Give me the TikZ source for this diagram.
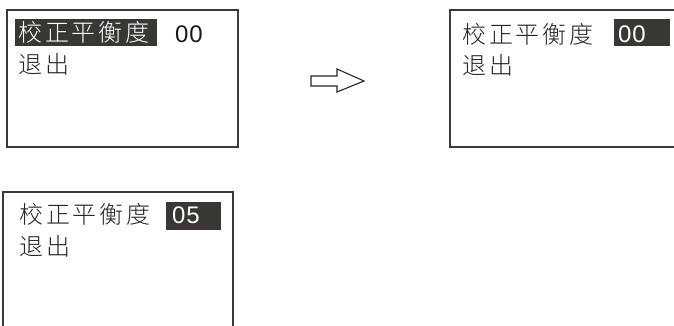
\documentclass[tikz,border=0pt]{standalone}
\usepackage{fontspec}
\newfontfamily\cjk{Noto Sans CJK SC Light}[LetterSpace=12]
\newfontfamily\digitfont{Liberation Sans}[LetterSpace=4]
\definecolor{bordercol}{HTML}{3D3939}
\definecolor{hlcol}{HTML}{3A3636}
\tikzset{
  panel/.style={draw=bordercol, line width=1.4pt},
  hilite/.style={fill=hlcol},
  cn/.style={font=\cjk\fontsize{24}{24}\selectfont, inner sep=0pt, anchor=base west, text=black!85},
  num/.style={font=\digitfont\fontsize{24}{24}\selectfont, inner sep=0pt, anchor=base west, text=black!90},
  arrowshape/.style={draw=black!85, line width=1.1pt, fill=white, line join=miter}
}
\begin{document}
\begin{tikzpicture}[x=1pt,y=-1pt]
\clip (0,0) rectangle (674,325);
\fill[white] (0,0) rectangle (674,325);
% top-left panel
\draw[panel] (7,10) rectangle (238,147);
\fill[hilite] (15,19) rectangle (157,46);
\node[cn, text=white] (t1) at (18,41) {校正平衡度};
\node[num] (n1) at (175,42) {00};
\node[cn] (e1) at (18,73) {退出};
% arrow
\draw[arrowshape] (311,76) -- (337,76) -- (337,69) -- (364,81) -- (337,92) -- (337,86) -- (311,86) -- cycle;
% top-right panel
\draw[panel] (450,10) rectangle (690,147);
\fill[hilite] (614,19) rectangle (670,46);
\node[cn] (t2) at (462,43) {校正平衡度};
\node[num, text=white] (n2) at (618,42) {00};
\node[cn] (e2) at (462,74) {退出};
% bottom panel
\draw[panel] (3,192) rectangle (233,340);
\fill[hilite] (166,202) rectangle (221,230);
\node[cn] (t3) at (19,223) {校正平衡度};
\node[num, text=white] (n3) at (172,223) {05};
\node[cn] (e3) at (19,255) {退出};
\end{tikzpicture}
\end{document}
